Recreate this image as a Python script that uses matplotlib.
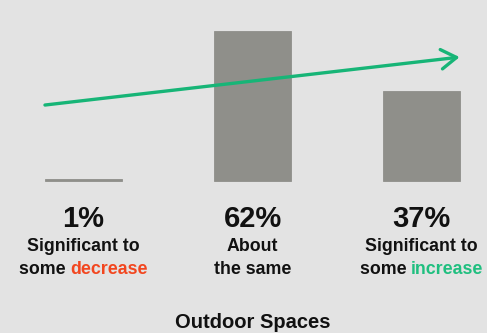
import matplotlib
matplotlib.use("Agg")
import matplotlib.pyplot as plt
import matplotlib.transforms as mtransforms

categories = ["Significant to some decrease", "About the same", "Significant to some increase"]
values = [1, 62, 37]
pct_labels = ["1%", "62%", "37%"]
line1 = ["Significant to", "About", "Significant to"]
line2 = [[("some ", "#111111"), ("decrease", "#f2461f")],
         [("the same", "#111111")],
         [("some ", "#111111"), ("increase", "#1fbf7f")]]
title = "Outdoor Spaces"

BG = "#e3e3e3"
BAR = "#8f8f8a"
GREEN = "#17b577"
FONT = "Liberation Sans"

DPI = 100
fig = plt.figure(figsize=(4.87, 3.33), dpi=DPI, facecolor=BG)
ax = fig.add_axes([0, 0, 1, 1])
ax.set_facecolor(BG)
ax.set_xlim(-0.494, 2.387)
ax.set_ylim(-62.8, 74.8)
ax.axis("off")

xs = list(range(len(values)))
ax.bar(xs, values, width=0.456, color=BAR, edgecolor=BAR, linewidth=0.6, zorder=2)

# trend arrow
ax.annotate("", xy=(2.225, 51.2), xytext=(-0.228, 31.4),
            arrowprops=dict(arrowstyle="->,head_length=1.1,head_width=0.7",
                            color=GREEN, lw=2.4, shrinkA=0, shrinkB=0),
            zorder=3)

renderer = fig.canvas.get_renderer()

def colored_line(x, y, parts, size):
    texts = []
    for s, c in parts:
        t = ax.text(x, y, s, color=c, fontsize=size, family=FONT, weight="bold",
                    ha="left", va="baseline")
        texts.append(t)
    widths = [t.get_window_extent(renderer).width for t in texts]
    total = sum(widths)
    cum = -total / 2
    for t, w in zip(texts, widths):
        t.set_transform(mtransforms.offset_copy(ax.transData, fig=fig,
                                                x=cum * 72 / DPI, y=0, units="points"))
        cum += w

def v(px_from_top):
    return (181 - px_from_top) / 2.42

for i in xs:
    ax.text(i, v(227), pct_labels[i], fontsize=21, family=FONT, weight="bold",
            ha="center", va="baseline", color="#111111")
    ax.text(i, v(251), line1[i], fontsize=12.8, family=FONT, weight="bold",
            ha="center", va="baseline", color="#111111")
    colored_line(i, v(274), line2[i], 12.8)

ax.text(1, v(328), title, fontsize=14.5, family=FONT, weight="bold", ha="center",
        va="baseline", color="#111111")

fig.savefig("out.png", dpi=DPI, facecolor=BG)
